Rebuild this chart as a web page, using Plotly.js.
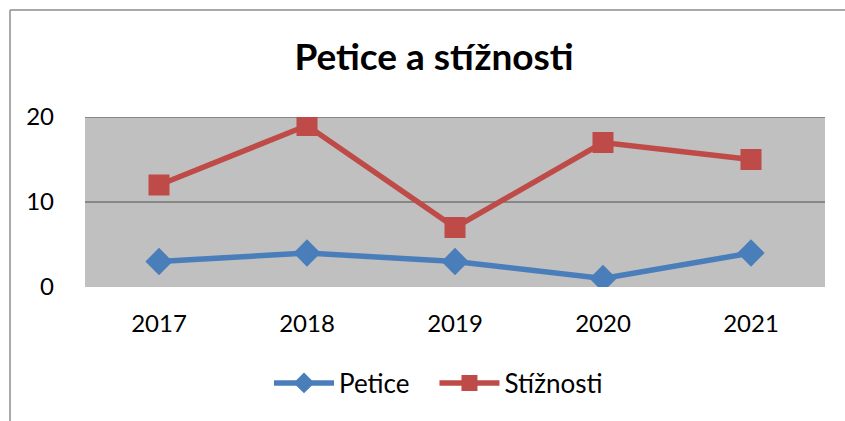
<!DOCTYPE html>
<html><head><meta charset="utf-8">
<script src="https://cdn.plot.ly/plotly-3.0.1.min.js"></script>
<style>body{margin:0;background:#fff}#c{width:845px;height:421px}</style>
</head><body><div id="c"></div>
<script>
const years = ['2017','2018','2019','2020','2021'];
const petice = [3,4,3,1,4];
const stiznosti = [12,19,7,17,15];
const yTicks = [0,10,20];
const seriesNames = ['Petice', 'Stížnosti'];

const font = 'Lato, "Open Sans", sans-serif';
const pad = '\u00a0\u00a0\u00a0';
const traces = [
  {x: years, y: petice, name: seriesNames[0] + pad, type: 'scatter', mode: 'lines+markers',
   line: {color: '#4a7ebb', width: 5.5}, marker: {symbol: 'diamond', size: 21, color: '#4a7ebb'}},
  {x: years, y: stiznosti, name: seriesNames[1], type: 'scatter', mode: 'lines+markers',
   line: {color: '#be4b48', width: 5.5}, marker: {symbol: 'square', size: 21, color: '#be4b48'}}
];
const L = 85, R = 20, T = 117, B = 134, W = 845, H = 421;
const pw = W - L - R, ph = H - T - B;
const px = v => (v - L) / pw, py = v => (H - B - v) / ph;
const layout = {
  width: W, height: H,
  margin: {l: L, r: R, t: T, b: B},
  paper_bgcolor: '#ffffff', plot_bgcolor: '#c0c0c0',
  font: {family: font, color: '#000', size: 24},
  title: {text: '<b>Petice a stížnosti</b>', font: {family: font, size: 37, color: '#000'},
          x: 434 / W, xref: 'container', xanchor: 'center', y: 1 - 57 / H, yref: 'container', yanchor: 'middle'},
  xaxis: {type: 'category', range: [-0.5, 4.5], showgrid: false, zeroline: false, showline: false,
          ticks: '', ticklabelstandoff: 20, tickfont: {size: 24}, fixedrange: true},
  yaxis: {range: [0, 20], tickvals: yTicks, showgrid: true, gridcolor: '#878787', gridwidth: 2,
          zeroline: false, showline: false, ticks: '', ticklabelstandoff: 30, tickfont: {size: 24}},
  showlegend: true,
  legend: {orientation: 'h', x: px(269), xref: 'paper', xanchor: 'left', y: py(383), yanchor: 'middle',
           font: {size: 26}, itemwidth: 60, bgcolor: 'rgba(0,0,0,0)'},
  shapes: [
    {type: 'line', xref: 'paper', yref: 'paper', x0: px(10), x1: px(850), y0: py(10), y1: py(10), line: {color: '#8c8c8c', width: 1.5}},
    {type: 'line', xref: 'paper', yref: 'paper', x0: px(10), x1: px(10), y0: py(10), y1: py(430), line: {color: '#8c8c8c', width: 1.5}},
    {type: 'line', xref: 'paper', yref: 'y', x0: 0, x1: 1, y0: 20, y1: 20, line: {color: '#878787', width: 2}, layer: 'below'}
  ]
};
Plotly.newPlot('c', traces, layout, {displayModeBar: false, staticPlot: true});
</script></body></html>
